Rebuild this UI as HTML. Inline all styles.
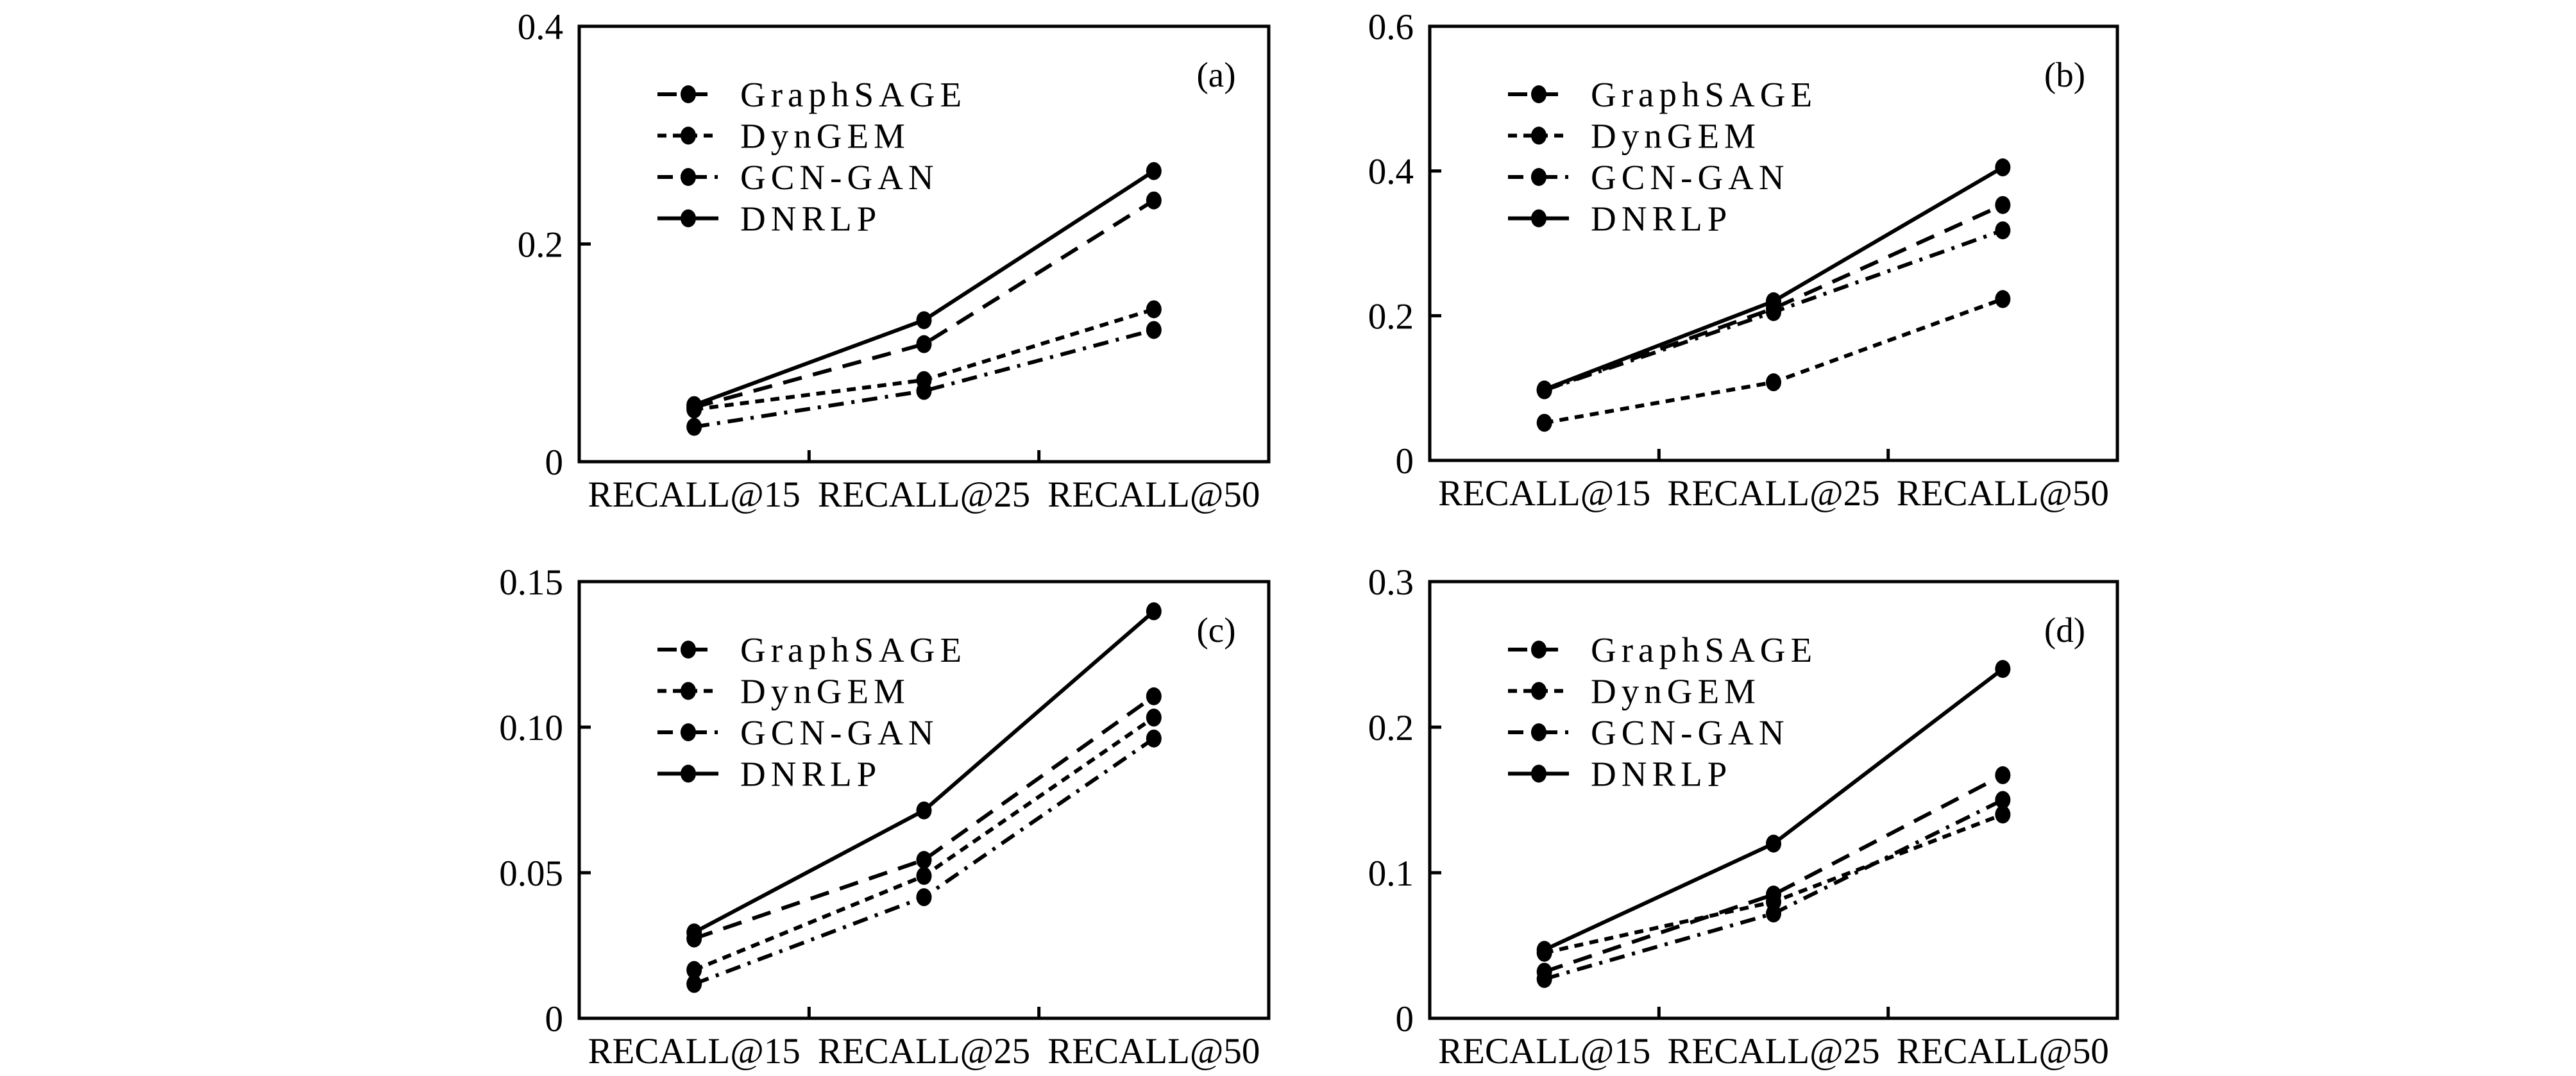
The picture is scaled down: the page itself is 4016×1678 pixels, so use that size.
<!DOCTYPE html>
<html><head><meta charset="utf-8"><style>
html,body{margin:0;padding:0;background:#fff;}
svg{display:block;}
text{font-family:"Liberation Serif",serif;fill:#000;}
</style></head><body>
<svg id="fig" width="4016" height="1678" viewBox="0 0 4016 1678" xmlns="http://www.w3.org/2000/svg"></svg>
<script>
const categories = ["RECALL@15","RECALL@25","RECALL@50"];
const seriesNames = ["GraphSAGE","DynGEM","GCN-GAN","DNRLP"];
const panelLabels = ["(a)","(b)","(c)","(d)"];
const yMaxA = 0.4, yMaxB = 0.6, yMaxC = 0.15, yMaxD = 0.3;
const ticksA = [0,0.2,0.4], ticksB = [0,0.2,0.4,0.6], ticksC = [0,0.05,0.10,0.15], ticksD = [0,0.1,0.2,0.3];
const tickLabelsA = ["0","0.2","0.4"], tickLabelsB = ["0","0.2","0.4","0.6"], tickLabelsC = ["0","0.05","0.10","0.15"], tickLabelsD = ["0","0.1","0.2","0.3"];
const aGraphSAGE = [0.050,0.108,0.240], aDynGEM = [0.048,0.075,0.140], aGCNGAN = [0.032,0.065,0.121], aDNRLP = [0.052,0.130,0.267];
const bGraphSAGE = [0.097,0.210,0.353], bDynGEM = [0.052,0.108,0.223], bGCNGAN = [0.097,0.205,0.318], bDNRLP = [0.098,0.220,0.405];
const cGraphSAGE = [0.0274,0.0544,0.1106], cDynGEM = [0.0166,0.0489,0.1033], cGCNGAN = [0.0118,0.0416,0.0961], cDNRLP = [0.0295,0.0714,0.1398];
const dGraphSAGE = [0.032,0.085,0.167], dDynGEM = [0.045,0.080,0.140], dGCNGAN = [0.027,0.072,0.150], dDNRLP = [0.047,0.120,0.240];

const NS = "http://www.w3.org/2000/svg";
const svg = document.getElementById("fig");
const dashes = ["30,18","14,10","24,12,5,12","none"];
function mk(tag, attrs, parent){const e=document.createElementNS(NS,tag);for(const k in attrs)e.setAttribute(k,attrs[k]);(parent||svg).appendChild(e);return e;}

const panels = [
 {x0:903,x1:1978,y0:41,y1:720,ymax:yMaxA,ticks:ticksA,tl:tickLabelsA,data:[aGraphSAGE,aDynGEM,aGCNGAN,aDNRLP],key:"a"},
 {x0:2229,x1:3301,y0:41,y1:718,ymax:yMaxB,ticks:ticksB,tl:tickLabelsB,data:[bGraphSAGE,bDynGEM,bGCNGAN,bDNRLP],key:"b"},
 {x0:903,x1:1978,y0:907,y1:1588,ymax:yMaxC,ticks:ticksC,tl:tickLabelsC,data:[cGraphSAGE,cDynGEM,cGCNGAN,cDNRLP],key:"c"},
 {x0:2229,x1:3301,y0:907,y1:1588,ymax:yMaxD,ticks:ticksD,tl:tickLabelsD,data:[dGraphSAGE,dDynGEM,dGCNGAN,dDNRLP],key:"d"}
];

panels.forEach((p,pi)=>{
  const g = mk("g",{});
  
  
  const W=p.x1-p.x0, H=p.y1-p.y0;
  const xs = i => p.x0 + W*(i+0.5)/categories.length;
  const ys = v => p.y1 - H*v/p.ymax;
  // frame
  const fr = mk("rect",{x:p.x0,y:p.y0,width:W,height:H,fill:"none",stroke:"#000","stroke-width":5},g);
  
  
  // x ticks
  for(let i=1;i<categories.length;i++){
    const tx=p.x0+W*i/categories.length;
    const t=mk("line",{x1:tx,x2:tx,y1:p.y1,y2:p.y1-18,stroke:"#000","stroke-width":5},g);
    
    
  }
  categories.forEach((c,i)=>{
    const t=mk("text",{x:xs(i),y:p.y1+70,"font-size":57,"text-anchor":"middle"},g);
    t.textContent=c;
    
    
  });
  // y ticks
  p.ticks.forEach((v,i)=>{
    const y=ys(v);
    if(i>0 && i<p.ticks.length-1){
      const t=mk("line",{x1:p.x0,x2:p.x0+18,y1:y,y2:y,stroke:"#000","stroke-width":5},g);
      
      
    }
    const l=mk("text",{x:p.x0-25,y:y+20,"font-size":57,"text-anchor":"end"},g);
    l.textContent=p.tl[i];
    
    
  });
  // series
  p.data.forEach((vals,si)=>{
    const pts = vals.map((v,i)=>xs(i)+","+ys(v)).join(" ");
    const pl=mk("polyline",{points:pts,fill:"none",stroke:"#000","stroke-width":6,"stroke-dasharray":dashes[si]},g);
    
    
    vals.forEach((v,i)=>{
      const m=mk("ellipse",{cx:xs(i),cy:ys(v),rx:12,ry:14,fill:"#000"},g);
      
      
    });
  });
  // legend
  const lx=p.x0+122, ly=p.y0+106;
  seriesNames.forEach((n,si)=>{
    const y=ly+64.5*si;
    const ll=mk("line",{x1:lx,x2:lx+95,y1:y,y2:y,stroke:"#000","stroke-width":6,"stroke-dasharray":dashes[si]},g);
    
    
    const lm=mk("ellipse",{cx:lx+48,cy:y,rx:12,ry:14,fill:"#000"},g);
    
    
    const lt=mk("text",{x:lx+129,y:y+19,"font-size":55,"letter-spacing":8},g);
    lt.textContent=n;
    
    
  });
  const pl=mk("text",{x:p.x1-82,y:p.y0+94,"font-size":55,"text-anchor":"middle"},g);
  pl.textContent=panelLabels[pi];
  
  
});
</script>
</body></html>
